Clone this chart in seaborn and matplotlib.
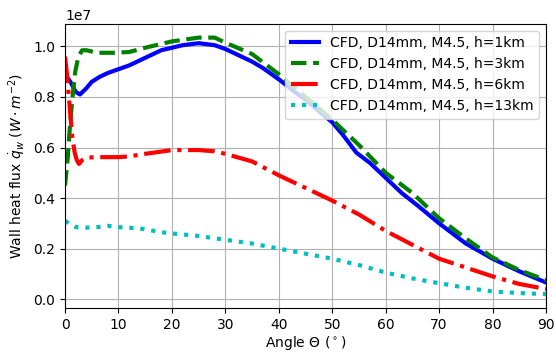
import numpy as np
import pandas as pd
import matplotlib
matplotlib.use("Agg")
import matplotlib.pyplot as plt
import seaborn as sns

# angle (deg) and wall heat flux (units of 1e7 W/m^2)
theta_1km = [0, 1, 2, 2.8, 4, 5, 6.5, 8, 10, 12, 15, 18, 20, 22, 25, 28, 30, 33, 35, 37,
             40, 43, 45, 48, 50, 52, 54.5, 57, 60, 63, 66, 70, 75, 80, 85, 90]
q_1km = [0.89, 0.86, 0.82, 0.81, 0.835, 0.86, 0.88, 0.895, 0.91, 0.925, 0.955, 0.985,
         0.995, 1.005, 1.013, 1.005, 0.99, 0.96, 0.94, 0.915, 0.87, 0.82, 0.79, 0.735,
         0.70, 0.65, 0.58, 0.54, 0.48, 0.42, 0.37, 0.30, 0.22, 0.16, 0.11, 0.066]

theta_3km = [0, 0.5, 0.9, 1.4, 1.9, 2.5, 3.2, 4, 6, 9, 12, 15, 20, 25, 28, 30, 35, 40,
             45, 50, 55, 60, 65, 70, 75, 80, 85, 90]
q_3km = [0.45, 0.56, 0.68, 0.80, 0.90, 0.96, 0.985, 0.985, 0.975, 0.975, 0.978, 0.995,
         1.02, 1.035, 1.035, 1.015, 0.97, 0.89, 0.80, 0.71, 0.61, 0.50, 0.42, 0.32,
         0.24, 0.165, 0.115, 0.075]

theta_6km = [0, 0.4, 0.8, 1.3, 1.8, 2.2, 2.6, 3.2, 4, 6, 8, 10, 12, 15, 20, 25, 28, 30,
             35, 40, 45, 50, 55, 60, 65, 70, 75, 80, 85, 90]
q_6km = [0.96, 0.88, 0.78, 0.65, 0.58, 0.55, 0.535, 0.55, 0.56, 0.562, 0.562, 0.562,
         0.565, 0.575, 0.59, 0.59, 0.585, 0.575, 0.545, 0.49, 0.44, 0.39, 0.335, 0.27,
         0.215, 0.16, 0.125, 0.09, 0.06, 0.04]

theta_13km = [0, 1, 2, 4, 6, 8, 10, 14, 18, 20, 25, 30, 35, 40, 45, 50, 55, 60, 65, 70,
              75, 80, 85, 90]
q_13km = [0.31, 0.295, 0.285, 0.283, 0.285, 0.29, 0.285, 0.28, 0.265, 0.26, 0.25, 0.235,
          0.22, 0.20, 0.18, 0.16, 0.135, 0.105, 0.082, 0.063, 0.045, 0.03, 0.024, 0.02]

labels = ['CFD, D14mm, M4.5, h=1km', 'CFD, D14mm, M4.5, h=3km',
          'CFD, D14mm, M4.5, h=6km', 'CFD, D14mm, M4.5, h=13km']

series = [(theta_1km, q_1km, 'b', '-'),
          (theta_3km, q_3km, 'g', '--'),
          (theta_6km, q_6km, 'r', '-.'),
          (theta_13km, q_13km, 'c', ':')]

fig = plt.figure(figsize=(5.56, 3.54), dpi=100)
ax = fig.add_axes([0.117, 0.13, 0.865, 0.803])

for (th, q, col, ls), lab in zip(series, labels):
    df = pd.DataFrame({'theta': th, 'q': np.array(q) * 1e7})
    sns.lineplot(data=df, x='theta', y='q', ax=ax, color=col, linestyle=ls,
                 linewidth=3, label=lab, estimator=None)

ax.set_xlim(0, 90)
ax.set_ylim(-0.035e7, 1.09e7)
ax.set_xticks(np.arange(0, 91, 10))
ax.set_yticks(np.arange(0, 1.01e7, 0.2e7))
ax.grid(True)
ax.set_xlabel(r'Angle $\Theta$ ($^\circ$)', labelpad=2)
ax.set_ylabel(r'Wall heat flux $\dot{q}_w$ ($W\cdot m^{-2}$)')
ax.legend(loc='upper right')

plt.savefig('out.png', dpi=100)
